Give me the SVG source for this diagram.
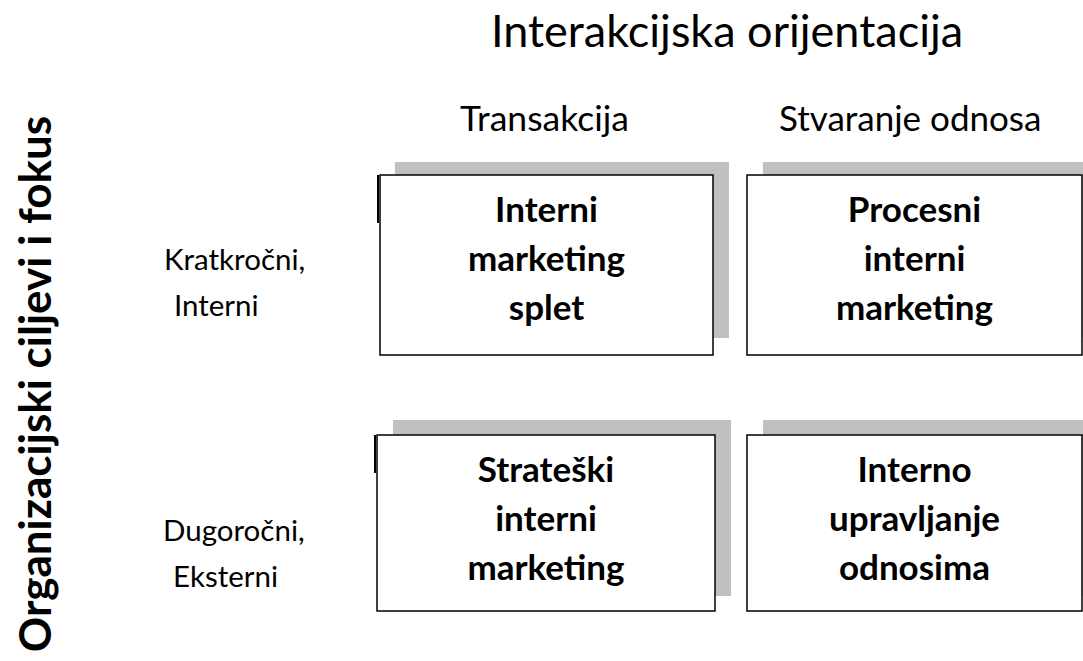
<svg xmlns="http://www.w3.org/2000/svg" width="1083" height="661" viewBox="0 0 1083 661">
<style>
.reg{font-family:Lato,"Open Sans","Liberation Sans",sans-serif;fill:#000}
.bold{font-family:Lato,"Open Sans","Liberation Sans",sans-serif;font-weight:bold;fill:#000;text-anchor:middle;font-size:35px}
.shadow{fill:#c0c0c0}
.box{fill:#fff;stroke:#000;stroke-width:1.5}
.stub{stroke:#000;stroke-width:2}
</style>
<rect width="1083" height="661" fill="#fff"/>
<text class="reg" x="491" y="47" font-size="45">Interakcijska orijentacija</text>
<text class="reg" x="460" y="131" font-size="35.5">Transakcija</text>
<text class="reg" x="779" y="131" font-size="35">Stvaranje odnosa</text>
<text class="reg" x="164" y="270" font-size="29.5">Kratkročni,</text>
<text class="reg" x="174" y="316" font-size="29.5">Interni</text>
<text class="reg" x="163" y="541" font-size="29.5">Dugoročni,</text>
<text class="reg" x="173" y="587" font-size="29.5">Eksterni</text>
<text class="reg" font-weight="bold" font-size="44" text-anchor="middle" transform="translate(51,384) rotate(-90)">Organizacijski ciljevi i fokus</text>
<g id="connectors"></g>
<g id="node-interni-marketing-splet">
<rect class="shadow" x="395" y="162" width="334" height="176"/>
<rect class="box" x="380" y="175" width="333" height="180"/>
<line class="stub" x1="378" y1="175" x2="378" y2="223"/>
<text class="bold" x="546.5" y="222">Interni</text>
<text class="bold" x="546.5" y="271">marketing</text>
<text class="bold" x="546.5" y="320">splet</text>
</g>
<g id="node-procesni-interni-marketing">
<rect class="shadow" x="763" y="162" width="320" height="176"/>
<rect class="box" x="747" y="175" width="335" height="180"/>
<text class="bold" x="914.5" y="222">Procesni</text>
<text class="bold" x="914.5" y="271">interni</text>
<text class="bold" x="914.5" y="320">marketing</text>
</g>
<g id="node-strateski-interni-marketing">
<rect class="shadow" x="393" y="420" width="338" height="176"/>
<rect class="box" x="377" y="435" width="338" height="176"/>
<line class="stub" x1="375" y1="435" x2="375" y2="473"/>
<text class="bold" x="546" y="482">Strateški</text>
<text class="bold" x="546" y="531">interni</text>
<text class="bold" x="546" y="580">marketing</text>
</g>
<g id="node-interno-upravljanje-odnosima">
<rect class="shadow" x="763" y="420" width="320" height="176"/>
<rect class="box" x="747" y="435" width="335" height="176"/>
<text class="bold" x="914.5" y="482">Interno</text>
<text class="bold" x="914.5" y="531">upravljanje</text>
<text class="bold" x="914.5" y="580">odnosima</text>
</g>
</svg>
